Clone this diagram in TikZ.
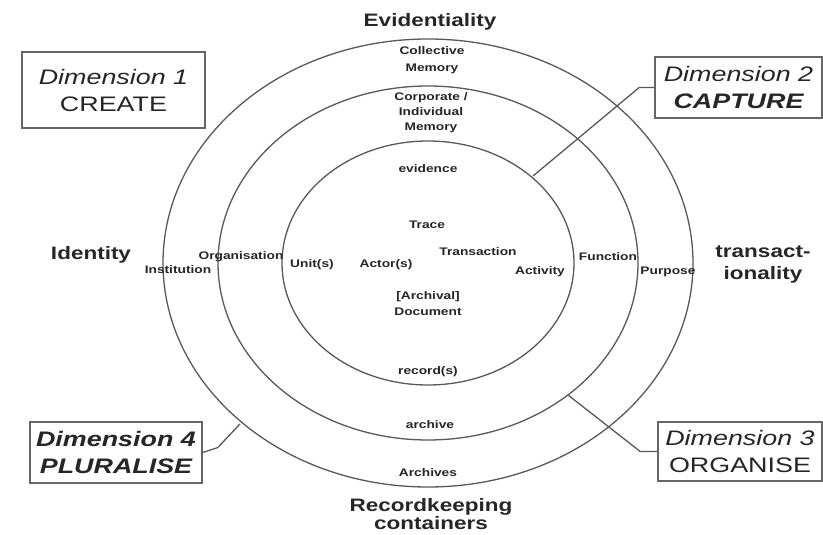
\documentclass[tikz,border=0pt]{standalone}
\usepackage{fontspec}
\setmainfont{Liberation Sans}
\newcommand{\sx}[1]{\scalebox{1.25}[1]{#1}}
\newcommand{\sxd}[1]{\scalebox{1.28}[1]{#1}}
\begin{document}
\begin{tikzpicture}[x=1pt,y=-1pt,
  ring/.style={draw=black!65, line width=1.3pt},
  lbl/.style={font=\fontsize{11}{15}\selectfont\bfseries, text=black!85, inner sep=0pt},
  axislbl/.style={font=\fontsize{18}{22}\selectfont\bfseries, text=black!85, inner sep=0pt},
  dimbox/.style={draw=black!60, line width=1.6pt, inner sep=0pt, align=center,
     font=\fontsize{21}{27}\selectfont, text=black!85},
  conn/.style={draw=black!65, line width=1.3pt}]
\useasboundingbox (0,0) rectangle (823,535);
\fill[white] (0,0) rectangle (823,535);

% rings
\draw[ring] (428,263) ellipse [x radius=265pt, y radius=224pt];
\draw[ring] (428,263) ellipse [x radius=210pt, y radius=177pt];
\draw[ring] (428,263) ellipse [x radius=146pt, y radius=122pt];

% axis labels
\node[axislbl] (evid) at (430,22) {\sx{Evidentiality}};
\node[axislbl] (identity) at (91,255) {\sx{Identity}};
\node[axislbl, align=center] (transact) at (763,264) {\sx{transact-}\\\sx{ionality}};
\node[axislbl, align=center, font=\fontsize{18}{18}\selectfont\bfseries] (rkc) at (431,514) {\sx{Recordkeeping}\\\sx{containers}};

% evidentiality axis
\node[lbl, align=center, font=\fontsize{11}{17}\selectfont\bfseries] (collmem) at (432,60) {\sx{Collective}\\\sx{Memory}};
\node[lbl, align=center] (corpmem) at (431,113) {\sx{Corporate /}\\\sx{Individual}\\\sx{Memory}};
\node[lbl] (evidence) at (428,169) {\sx{evidence}};
\node[lbl] (trace) at (427,225) {\sx{Trace}};

% transactionality axis
\node[lbl] (trans) at (478,252) {\sx{Transaction}};
\node[lbl] (activity) at (540,272) {\sx{Activity}};
\node[lbl] (function) at (608,257) {\sx{Function}};
\node[lbl] (purpose) at (668,272) {\sx{Purpose}};

% identity axis
\node[lbl] (inst) at (178,270) {\sx{Institution}};
\node[lbl] (org) at (241,257) {\sx{Organisation}};
\node[lbl] (units) at (312,265) {\sx{Unit(s)}};
\node[lbl] (actors) at (386,265) {\sx{Actor(s)}};

% recordkeeping containers axis
\node[lbl, align=center, font=\fontsize{11}{16}\selectfont\bfseries] (doc) at (428,304) {\sx{[Archival]}\\\sx{Document}};
\node[lbl] (records) at (428,372) {\sx{record(s)}};
\node[lbl] (archive) at (430,425) {\sx{archive}};
\node[lbl] (archives) at (428,473) {\sx{Archives}};

% dimension boxes
\node[dimbox, minimum width=183pt, minimum height=76pt] (dim1) at (113.5,90)
  {\sxd{\itshape Dimension 1}\\\sxd{CREATE}};
\node[dimbox, minimum width=167pt, minimum height=61pt] (dim2) at (738.5,87.5)
  {\sxd{\itshape Dimension 2}\\\sxd{\bfseries\itshape CAPTURE}};
\node[dimbox, minimum width=164pt, minimum height=59pt] (dim3) at (740,451.5)
  {\sxd{\itshape Dimension 3}\\\sxd{ORGANISE}};
\node[dimbox, minimum width=172pt, minimum height=61pt] (dim4) at (116,452.5)
  {\sxd{\bfseries\itshape Dimension 4}\\\sxd{\bfseries\itshape PLURALISE}};

% connector ends
\coordinate (e2) at (533,176);
\coordinate (e3) at (568,395);
\coordinate (e4) at (240,424);
\draw[conn] (dim2.west) -- ++(-15,0) -- (e2);
\draw[conn] (dim3.west) -- ++(-17,0) -- (e3);
\draw[conn] (dim4.east) -- ++(15,-5) -- (e4);
\end{tikzpicture}
\end{document}
